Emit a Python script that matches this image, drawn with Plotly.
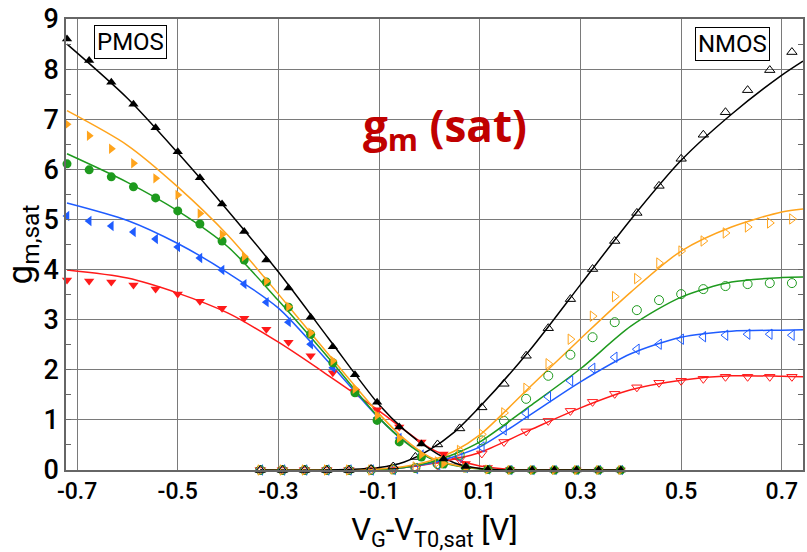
import plotly.graph_objects as go

# ---------------- data ----------------
x_pmos = [-0.72, -0.676, -0.632, -0.588, -0.544, -0.5, -0.456, -0.412, -0.368, -0.324,
          -0.28, -0.236, -0.192, -0.148, -0.104, -0.06, -0.016, 0.028, 0.072, 0.116,
          0.16, 0.204, 0.248, 0.292, 0.336, 0.38]
x_nmos = [-0.336, -0.292, -0.248, -0.204, -0.16, -0.116, -0.072, -0.028, 0.016, 0.06,
          0.104, 0.148, 0.192, 0.236, 0.28, 0.324, 0.368, 0.412, 0.456, 0.5,
          0.544, 0.588, 0.632, 0.676, 0.72]

p_black = [8.60, 8.17, 7.74, 7.30, 6.83, 6.35, 5.83, 5.31, 4.76, 4.19, 3.63, 3.05, 2.46,
           1.90, 1.35, 0.86, 0.52, 0.22, 0.07, 0.01, 0, 0, 0, 0, 0, 0]
p_orange = [6.90, 6.67, 6.41, 6.12, 5.82, 5.49, 5.12, 4.70, 4.26, 3.77, 3.26, 2.74, 2.18,
            1.62, 1.09, 0.64, 0.31, 0.13, 0.04, 0.01, 0, 0, 0, 0, 0, 0]
p_green = [6.11, 5.99, 5.85, 5.65, 5.43, 5.17, 4.91, 4.57, 4.19, 3.75, 3.25, 2.71, 2.14,
           1.54, 0.99, 0.56, 0.26, 0.12, 0.04, 0.01, 0, 0, 0, 0, 0, 0]
p_blue = [5.07, 4.97, 4.87, 4.75, 4.61, 4.45, 4.23, 3.99, 3.71, 3.35, 2.95, 2.51, 2.04,
          1.55, 1.04, 0.64, 0.31, 0.13, 0.04, 0.01, 0, 0, 0, 0, 0, 0]
p_red = [3.79, 3.77, 3.75, 3.69, 3.61, 3.51, 3.37, 3.23, 3.03, 2.81, 2.55, 2.28, 1.94,
         1.57, 1.20, 0.86, 0.56, 0.32, 0.13, 0.05, 0.01, 0, 0, 0, 0, 0]

n_black = [0, 0, 0, 0, 0, 0.02, 0.07, 0.26, 0.51, 0.83, 1.25, 1.72, 2.28, 2.83, 3.41,
           4.01, 4.57, 5.13, 5.67, 6.21, 6.69, 7.14, 7.58, 7.98, 8.34]
n_orange = [0, 0, 0, 0, 0, 0, 0.02, 0.06, 0.16, 0.39, 0.71, 1.14, 1.63, 2.12, 2.61,
            3.07, 3.46, 3.82, 4.13, 4.37, 4.57, 4.73, 4.85, 4.93, 5.01]
n_green = [0, 0, 0, 0, 0, 0, 0.01, 0.04, 0.12, 0.30, 0.59, 0.98, 1.42, 1.88, 2.30,
           2.65, 2.95, 3.19, 3.39, 3.51, 3.61, 3.67, 3.71, 3.73, 3.73]
n_blue = [0, 0, 0, 0, 0, 0, 0.01, 0.03, 0.10, 0.25, 0.46, 0.80, 1.13, 1.46, 1.78,
          2.03, 2.25, 2.41, 2.51, 2.61, 2.66, 2.69, 2.71, 2.71, 2.69]
n_red = [0, 0, 0, 0, 0, 0, 0.01, 0.03, 0.09, 0.21, 0.33, 0.56, 0.77, 0.98, 1.18,
         1.36, 1.52, 1.65, 1.74, 1.78, 1.82, 1.86, 1.86, 1.86, 1.86]

# model curves
xl_pmos = [-0.72, -0.6, -0.5, -0.4, -0.3, -0.2, -0.1, -0.05, 0.0, 0.05, 0.1, 0.15, 0.2, 0.38]
pl_black = [8.50, 7.42, 6.33, 5.17, 3.95, 2.62, 1.30, 0.80, 0.42, 0.14, 0.03, 0.0, 0.0, 0.0]
pl_orange = [7.17, 6.48, 5.65, 4.68, 3.51, 2.30, 1.12, 0.62, 0.26, 0.10, 0.03, 0.0, 0.0, 0.0]
pl_green = [6.31, 5.74, 5.17, 4.45, 3.38, 2.23, 1.04, 0.57, 0.24, 0.09, 0.02, 0.0, 0.0, 0.0]
pl_blue = [5.33, 4.98, 4.52, 3.93, 3.23, 2.15, 1.03, 0.58, 0.25, 0.10, 0.03, 0.0, 0.0, 0.0]
pl_red = [3.99, 3.83, 3.53, 3.13, 2.55, 1.88, 1.18, 0.80, 0.44, 0.22, 0.08, 0.02, 0.0, 0.0]

xl_nmos = [-0.336, -0.2, -0.1, -0.05, 0.0, 0.05, 0.1, 0.2, 0.3, 0.4, 0.5, 0.6, 0.7, 0.742]
nl_black = [0.0, 0.0, 0.05, 0.16, 0.40, 0.76, 1.26, 2.40, 3.70, 5.00, 6.18, 7.10, 7.88, 8.16]
nl_orange = [0.0, 0.0, 0.02, 0.07, 0.18, 0.38, 0.70, 1.66, 2.62, 3.55, 4.37, 4.85, 5.15, 5.21]
nl_green = [0.0, 0.0, 0.01, 0.05, 0.15, 0.32, 0.56, 1.28, 2.02, 2.87, 3.45, 3.75, 3.84, 3.85]
nl_blue = [0.0, 0.0, 0.01, 0.05, 0.13, 0.27, 0.46, 1.10, 1.76, 2.32, 2.65, 2.77, 2.79, 2.80]
nl_red = [0.0, 0.0, 0.01, 0.05, 0.12, 0.22, 0.35, 0.80, 1.24, 1.60, 1.79, 1.88, 1.87, 1.86]

x_ticks = [-0.7, -0.5, -0.3, -0.1, 0.1, 0.3, 0.5, 0.7]
x_tick_labels = ["-0.7", "-0.5", "-0.3", "-0.1", "0.1", "0.3", "0.5", "0.7"]
y_ticks = [0, 1, 2, 3, 4, 5, 6, 7, 8, 9]

# ---------------- style ----------------
C_BLACK = "#000000"
C_ORANGE = "#FFA41C"
C_GREEN = "#1E9A1E"
C_BLUE = "#1F5CFF"
C_RED = "#FF1A1A"
FONT = "Roboto, DejaVu Sans Condensed, sans-serif"

fig = go.Figure()

pmos_lines = [(pl_black, C_BLACK), (pl_orange, C_ORANGE), (pl_green, C_GREEN),
              (pl_blue, C_BLUE), (pl_red, C_RED)]
nmos_lines = [(nl_black, C_BLACK), (nl_orange, C_ORANGE), (nl_green, C_GREEN),
              (nl_blue, C_BLUE), (nl_red, C_RED)]
for ys, c in pmos_lines[::-1]:
    fig.add_trace(go.Scatter(x=xl_pmos, y=ys, mode="lines",
                             line=dict(color=c, width=1.5, shape="spline", smoothing=0.8),
                             showlegend=False, hoverinfo="skip", cliponaxis=True))
for ys, c in nmos_lines[::-1]:
    fig.add_trace(go.Scatter(x=xl_nmos, y=ys, mode="lines",
                             line=dict(color=c, width=1.5, shape="spline", smoothing=0.8),
                             showlegend=False, hoverinfo="skip", cliponaxis=True))

nmos_marks = [(n_red, C_RED, "triangle-down-open"), (n_blue, C_BLUE, "triangle-left-open"),
              (n_green, C_GREEN, "circle-open"), (n_orange, C_ORANGE, "triangle-right-open"),
              (n_black, C_BLACK, "triangle-up-open")]
for ys, c, sym in nmos_marks:
    fig.add_trace(go.Scatter(x=x_nmos, y=ys, mode="markers",
                             marker=dict(symbol=sym, size=9, color=c, line=dict(width=1, color=c)),
                             showlegend=False, cliponaxis=False))

pmos_marks = [(p_red, C_RED, "triangle-down"), (p_blue, C_BLUE, "triangle-left"),
              (p_green, C_GREEN, "circle"), (p_orange, C_ORANGE, "triangle-right"),
              (p_black, C_BLACK, "triangle-up")]
for ys, c, sym in pmos_marks:
    fig.add_trace(go.Scatter(x=x_pmos, y=ys, mode="markers",
                             marker=dict(symbol=sym, size=9, color=c, line=dict(width=0)),
                             showlegend=False, cliponaxis=False))

fig.update_layout(
    width=807, height=552,
    margin=dict(l=66, r=2, t=19, b=82),
    paper_bgcolor="white", plot_bgcolor="white",
    font=dict(family=FONT, color="black"),
    xaxis=dict(range=[-0.722, 0.742], tickvals=x_ticks, ticktext=x_tick_labels,
               showgrid=True, gridcolor="#7a7a7a", gridwidth=1.4,
               showline=True, linecolor="#666666", linewidth=1.5, mirror=True,
               ticks="", zeroline=False,
               tickfont=dict(size=23, family=FONT, color="black", weight=500),
               title=dict(text="V<sub>G</sub>-V<sub>T0,sat</sub> [V]",
                          font=dict(size=31, family=FONT, color="black"), standoff=14)),
    yaxis=dict(range=[0, 9], tickvals=y_ticks,
               showgrid=True, gridcolor="#7a7a7a", gridwidth=1.4,
               showline=True, linecolor="#666666", linewidth=1.5, mirror="allticks",
               ticks="inside", ticklen=5, tickcolor="#666666",
               minor=dict(dtick=0.5, ticks="inside", ticklen=5, tickcolor="#666666", showgrid=False),
               zeroline=False, ticklabelstandoff=0,
               tickfont=dict(size=27, family=FONT, color="black", weight=500),
               title=dict(text="g<sub>m,sat</sub>",
                          font=dict(size=35, family=FONT, color="black"), standoff=6)),
    annotations=[
        dict(x=0.514, y=0.835, xref="paper", yref="paper", showarrow=False,
             text="<b>g<sub>m</sub> (sat)</b>",
             font=dict(size=44, family="Open Sans, Lato, sans-serif", color="#C00000")),
        dict(x=-0.593, y=8.54, xref="x", yref="y", showarrow=False, text="PMOS",
             font=dict(size=24, family=FONT, color="black"),
             bordercolor="black", borderwidth=1, borderpad=2, bgcolor="white"),
        dict(x=0.601, y=8.50, xref="x", yref="y", showarrow=False, text="NMOS",
             font=dict(size=24, family=FONT, color="black"),
             bordercolor="black", borderwidth=1, borderpad=2, bgcolor="white"),
    ],
)

fig.write_html("out.html")
